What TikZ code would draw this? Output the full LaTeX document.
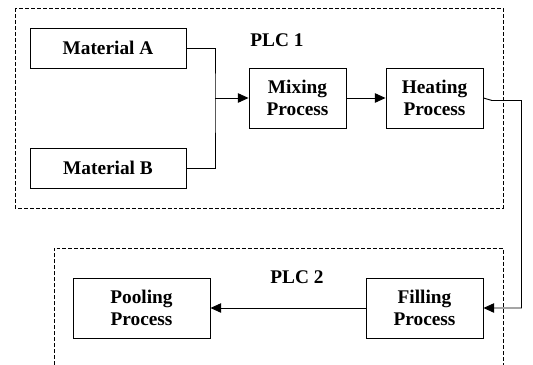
\documentclass[tikz,border=0pt]{standalone}
\usepackage{fontspec}
\setmainfont{Liberation Serif}
\usetikzlibrary{arrows.meta}
\begin{document}
\begin{tikzpicture}[x=0.03cm,y=-0.03cm,>={Triangle[length=9pt,width=8pt]}, line width=0.8pt,
	font=\fontsize{16.5}{19}\selectfont\bfseries,
	blk/.style={draw, align=center, inner sep=0pt},
	plcbox/.style={dash pattern=on 3.4pt off 1.7pt}]
	\useasboundingbox (0,0) rectangle (533,365);
	% PLC 1
	\draw[plcbox] (15,8) rectangle (503,208);
	\node (plca) at (277,40) {PLC 1};
	\node[blk, minimum width=4.68cm, minimum height=1.2cm] (matA) at (108,48) {Material A};
	\node[blk, minimum width=4.68cm, minimum height=1.2cm] (matB) at (108,168) {Material B};
	\node[blk, minimum width=2.91cm, minimum height=1.8cm] (mix) at (297.5,98) {Mixing\\Process};
	\node[blk, minimum width=2.91cm, minimum height=1.8cm] (heat) at (434.5,98) {Heating\\Process};
	% PLC 2
	\draw[plcbox] (54,365)--(54,248)--(503,248)--(503,365);
	\node (plcb) at (297,277) {PLC 2};
	\node[blk, minimum width=4.11cm, minimum height=1.8cm] (pool) at (141.5,308) {Pooling\\Process};
	\node[blk, minimum width=3.51cm, minimum height=1.8cm] (fill) at (424.5,308) {Filling\\Process};
	% connectors
	\coordinate (join) at (215,98);
	\coordinate (kink) at (492,100.5);
	\coordinate (turn) at (521.5,100.5);
	\draw (matA.east) -| (join) |- (matB.east);
	\draw[->] (join) -- (mix.west);
	\draw[->] (mix.east) -- (heat.west);
	\draw[->, solid] (heat.east) -- (kink) -- (turn) |- (fill.east);
	\draw[->] (fill.west) -- (pool.east);
\end{tikzpicture}
\end{document}
